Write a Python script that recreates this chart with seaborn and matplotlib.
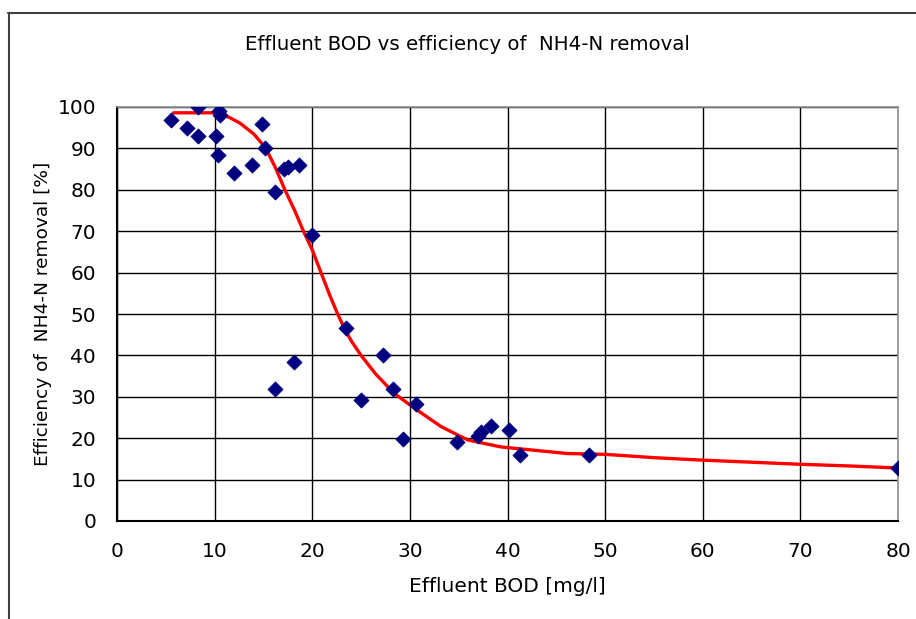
import numpy as np
import pandas as pd
import matplotlib
matplotlib.use("Agg")
import matplotlib.pyplot as plt
from matplotlib.lines import Line2D
import seaborn as sns

# measured points
bod = [5.5, 7.2, 8.3, 8.3, 10.1, 10.3, 10.4, 10.6, 12.0, 13.8, 14.9, 15.2, 16.2, 16.2,
       17.1, 17.5, 18.1, 18.6, 20.0, 23.5, 25.0, 27.2, 28.3, 29.3, 30.6, 34.8, 37.0,
       37.3, 38.3, 40.2, 41.3, 48.3, 80.0]
eff = [96.8, 95, 100, 93, 93, 88.5, 99, 98, 84, 86, 96, 90, 79.5, 32,
       85, 85.5, 38.5, 86, 69, 46.5, 29.3, 40, 32, 19.7, 28.3, 19, 20.5,
       21.5, 23, 22, 16, 16, 12.8]

# fitted curve (red)
curve_x = [5.8, 8, 10, 11.5, 12.6, 14, 15.2, 16.2, 17.2, 18.2, 19.1, 20, 20.9, 21.8,
           22.6, 23.3, 24, 25, 26.5, 28.4, 30.5, 33.2, 35.9, 39.3, 46.1, 50, 55, 60,
           65, 70, 75, 80]
curve_y = [98.6, 98.6, 98.6, 97.5, 96.1, 93.5, 90.2, 85.5, 80, 75, 70, 65.5, 60, 54.5,
           50, 46.5, 43.5, 40, 35.5, 30.8, 27.2, 22.8, 19.6, 17.9, 16.3, 16.1, 15.3,
           14.7, 14.2, 13.7, 13.3, 12.8]

pts = pd.DataFrame({"bod": bod, "eff": eff})
fit = pd.DataFrame({"bod": curve_x, "eff": curve_y})

sns.set_style("white")
plt.rcParams['font.family'] = ['DejaVu Sans']
plt.rcParams['text.color'] = 'black'
plt.rcParams['axes.labelcolor'] = 'black'
plt.rcParams['xtick.color'] = 'black'
plt.rcParams['ytick.color'] = 'black'

W, H = 916, 619
fig = plt.figure(figsize=(W / 100, H / 100), dpi=100)
ax = fig.add_axes([117 / W, 1 - 521 / H, (898 - 117) / W, (521 - 107) / H])

sns.lineplot(data=fit, x="bod", y="eff", sort=False, estimator=None,
             color="#ff0000", linewidth=2.4, ax=ax, zorder=3)
sns.scatterplot(data=pts, x="bod", y="eff", marker="D", s=60, color="#000080",
                edgecolor="#000080", linewidth=0.5, ax=ax, zorder=4)

ax.set_xlim(0, 80)
ax.set_ylim(0, 100)
ax.set_xticks(np.arange(0, 81, 10))
ax.set_yticks(np.arange(0, 101, 10))
ax.grid(True, color="black", linewidth=1.0)
ax.set_axisbelow(True)
for s in ["top", "right"]:
    ax.spines[s].set_color("#909090")
    ax.spines[s].set_linewidth(1.2)
for s in ["left", "bottom"]:
    ax.spines[s].set_color("black")
    ax.spines[s].set_linewidth(1.5)
ax.tick_params(axis="both", direction="out", length=3, width=1, color="black",
               labelsize=14.5, pad=12)

ax.set_xlabel("Effluent BOD [mg/l]", fontsize=14.5, labelpad=12)
ax.set_ylabel("Efficiency of  NH4-N removal [%]", fontsize=13.3, labelpad=4)
fig.text(467 / W, 1 - 44 / H, "Effluent BOD vs efficiency of  NH4-N removal",
         ha="center", va="center", fontsize=14.2)

# chart area frame
fig.add_artist(Line2D([8.5 / W, 8.5 / W], [0, 1 - 13 / H], transform=fig.transFigure,
                      color="#404040", linewidth=1.5))
fig.add_artist(Line2D([8 / W, 1], [1 - 13 / H, 1 - 13 / H], transform=fig.transFigure,
                      color="#404040", linewidth=1.5))

fig.savefig("out.png", dpi=100, facecolor="white")
